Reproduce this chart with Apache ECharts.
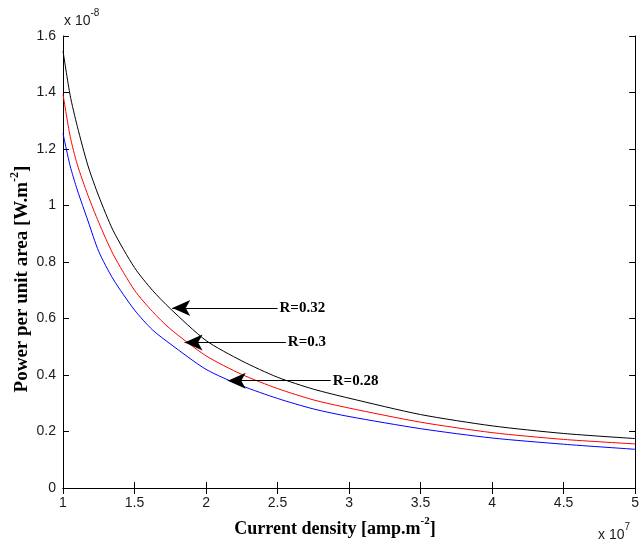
<!DOCTYPE html>
<html>
<head>
<meta charset="utf-8">
<script src="https://cdn.jsdelivr.net/npm/echarts@6/dist/echarts.min.js"></script>
<style>
html,body{margin:0;padding:0;background:#fff;}
#chart{width:642px;height:546px;}
</style>
</head>
<body>
<div id="chart"></div>
<script>
// Current density (x 10^7 amp.m^-2)
var xs = [1, 1.05, 1.1, 1.175, 1.25, 1.35, 1.5, 1.625, 1.75, 2, 2.25, 2.5, 2.75, 3, 3.5, 4, 4.5, 5];
// Power per unit area (x 10^-8 W.m^-2)
var powerR032 = [1.547, 1.39, 1.28, 1.14, 1.033, 0.912, 0.78, 0.70, 0.635, 0.522, 0.450, 0.392, 0.350, 0.318, 0.260, 0.220, 0.193, 0.175];
var powerR030 = [1.394, 1.245, 1.145, 1.035, 0.94, 0.828, 0.70, 0.625, 0.563, 0.468, 0.402, 0.352, 0.312, 0.283, 0.233, 0.196, 0.172, 0.156];
var powerR028 = [1.255, 1.14, 1.055, 0.945, 0.837, 0.74, 0.63, 0.56, 0.51, 0.42, 0.362, 0.317, 0.280, 0.253, 0.210, 0.177, 0.155, 0.137];
var seriesNames = ['R=0.32', 'R=0.3', 'R=0.28'];
var seriesColors = ['#000000', '#ff0000', '#0000ff'];
// annotation arrows (data coordinates)
var arrowTipX = [1.764, 1.85, 2.152];
var arrowTipY = [0.637, 0.515, 0.380];
var arrowTailX = [2.50, 2.558, 2.872];

var seriesData = [powerR032, powerR030, powerR028];
function pairs(ys){ return xs.map(function(x,i){ return [x, ys[i]]; }); }

var chart = echarts.init(document.getElementById('chart'), null, {renderer:'canvas'});
var tickFont = {fontFamily:'Liberation Sans, Arial, sans-serif', fontSize:14, color:'#1a1a1a'};
var axisLine = {show:true, lineStyle:{color:'#000', width:1}};
var serif = 'Liberation Serif, Times New Roman, serif';
var series = seriesData.map(function(d, i){
  return {
    type:'line', name: seriesNames[i], data: pairs(d), showSymbol:false, smooth:0.25,
    lineStyle:{color:seriesColors[i], width:1}, itemStyle:{color:seriesColors[i]}, silent:true, z: 3-i,
    markLine: {
      silent:true, symbol:['none','arrow'], symbolSize:[12,18], animation:false,
      lineStyle:{color:'#000', width:1, type:'solid'},
      label:{show:true, position:'start', formatter: seriesNames[i], color:'#000',
        fontFamily:serif, fontWeight:'bold', fontSize:15, distance:2},
      data:[[{coord:[arrowTailX[i], arrowTipY[i]]},{coord:[arrowTipX[i], arrowTipY[i]]}]]
    }
  };
});

var option = {
  animation:false,
  backgroundColor:'#fff',
  grid:{left:63, right:4, top:36, bottom:58, containLabel:false},
  xAxis:[{
    type:'value', min:1, max:5, interval:0.5, position:'bottom',
    axisLine:axisLine, axisTick:{show:true, inside:true, length:6, lineStyle:{color:'#000'}},
    splitLine:{show:false}, axisLabel:Object.assign({margin:8}, tickFont)
  },{
    type:'value', min:1, max:5, interval:0.5, position:'top',
    axisLine:axisLine, axisTick:{show:true, inside:true, length:6, lineStyle:{color:'#000'}},
    splitLine:{show:false}, axisLabel:{show:false}
  }],
  yAxis:[{
    type:'value', min:0, max:1.6, interval:0.2, position:'left',
    axisLine:axisLine, axisTick:{show:true, inside:true, length:6, lineStyle:{color:'#000'}},
    splitLine:{show:false}, axisLabel:Object.assign({margin:7}, tickFont)
  },{
    type:'value', min:0, max:1.6, interval:0.2, position:'right',
    axisLine:axisLine, axisTick:{show:true, inside:true, length:6, lineStyle:{color:'#000'}},
    splitLine:{show:false}, axisLabel:{show:false}
  }],
  graphic:[
    {type:'text', left:64, top:8, style:{text:'{a|x 10}{b|-8}', rich:{
      a:{fontFamily:'Liberation Sans, Arial, sans-serif', fontSize:14, fill:'#1a1a1a', padding:[6,0,0,0]},
      b:{fontFamily:'Liberation Sans, Arial, sans-serif', fontSize:10, fill:'#1a1a1a', verticalAlign:'top'}
    }}},
    {type:'text', left:598, top:522, style:{text:'{a|x 10}{b|7}', rich:{
      a:{fontFamily:'Liberation Sans, Arial, sans-serif', fontSize:14, fill:'#1a1a1a', padding:[6,0,0,0]},
      b:{fontFamily:'Liberation Sans, Arial, sans-serif', fontSize:10, fill:'#1a1a1a', verticalAlign:'top'}
    }}},
    {type:'text', x:335, y:527, style:{text:'{t|Current density [amp.m}{s|-2}{t|]}', align:'center', verticalAlign:'middle', rich:{
      t:{fontFamily:serif, fontWeight:'bold', fontSize:18, fill:'#000', padding:[4,0,0,0]},
      s:{fontFamily:serif, fontWeight:'bold', fontSize:11, fill:'#000', verticalAlign:'top'}
    }}},
    {type:'text', x:20, y:279, rotation:Math.PI/2, style:{text:'{t|Power per unit area [W.m}{s|-2}{t|]}', align:'center', verticalAlign:'middle', rich:{
      t:{fontFamily:serif, fontWeight:'bold', fontSize:19, fill:'#000', padding:[4,0,0,0]},
      s:{fontFamily:serif, fontWeight:'bold', fontSize:12, fill:'#000', verticalAlign:'top'}
    }}}
  ],
  series: series
};
chart.setOption(option);
</script>
</body>
</html>
